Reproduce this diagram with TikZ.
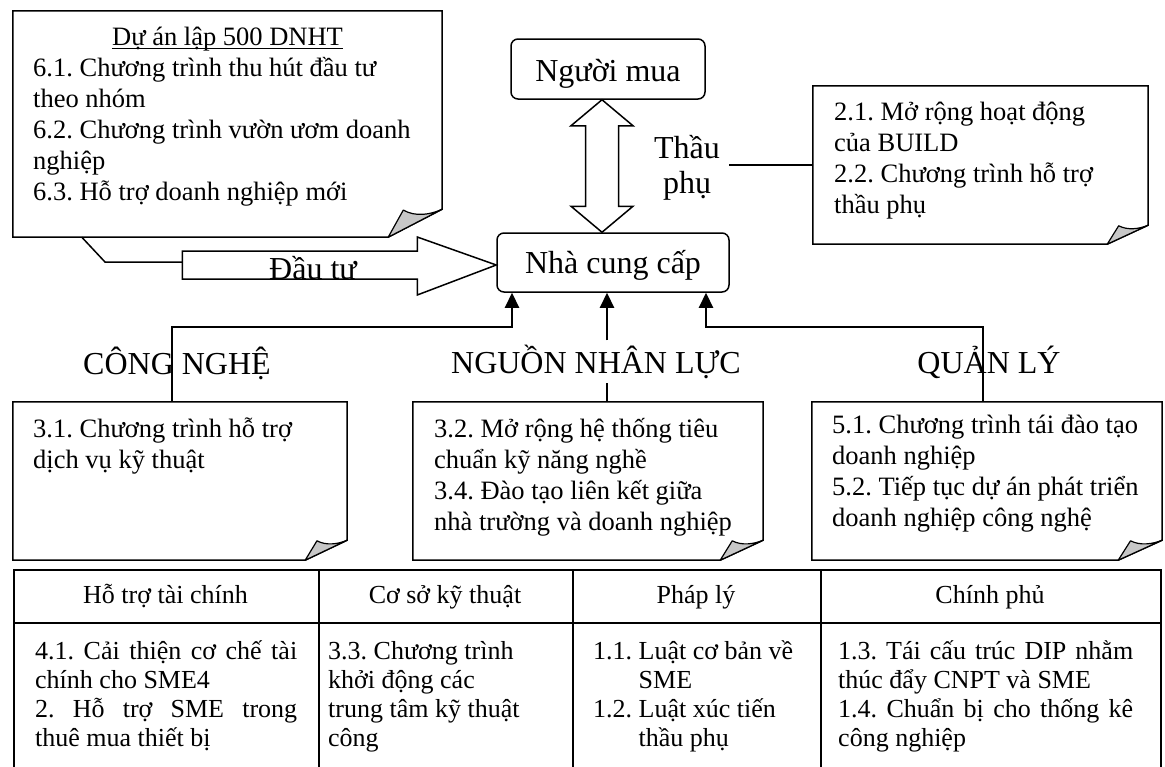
\documentclass[tikz,border=0pt]{standalone}
\usepackage{fontspec}
\setmainfont{Liberation Serif}
\usetikzlibrary{arrows.meta,calc,fit}
\frenchspacing

\tikzset{
  every node/.style={inner sep=0pt},
  note/.style={font=\fontsize{26.5}{31}\selectfont},
  big/.style={font=\fontsize{32}{35}\selectfont},
  celltext/.style={font=\fontsize{26}{29}\selectfont},
  area/.style={inner sep=0pt, draw=none},
  frame/.style={draw, line width=1.5pt, fill=white, line join=miter},
  flap/.style={draw, line width=1.2pt, fill=black!22, line join=round},
  rbox/.style={draw, line width=1.5pt, rounded corners=7pt, fill=white},
  cellbox/.style={draw, line width=1.5pt, anchor=north west},
  link/.style={line width=2.2pt},
  linkarrow/.style={line width=2.2pt, -{Triangle[length=15pt,width=14pt]}},
  hollow/.style={draw, line width=1.5pt, fill=white, line join=miter},
  thin/.style={line width=1.5pt},
}

% note frame with a turned-down bottom right corner
\newcommand\dogear[3]{%
  \filldraw[frame] (#1.north west) -- (#1.north east) -- ([yshift=#3pt]#1.south east)
    -- ([xshift=-#2pt]#1.south east) -- (#1.south west) -- cycle;
  \filldraw[flap] ([xshift=-#2pt]#1.south east)
    -- ([xshift=-0.72*#2pt, yshift=0.97*#3pt]#1.south east)
    .. controls ([xshift=-0.5*#2pt, yshift=0.72*#3pt]#1.south east)
    and ([xshift=-0.22*#2pt, yshift=0.8*#3pt]#1.south east)
    .. ([yshift=#3pt]#1.south east) -- cycle;}

\begin{document}
\frenchspacing
\begin{tikzpicture}[x=1pt,y=-1pt]
\useasboundingbox (0,0) rectangle (1165,766);
\clip (0,0) rectangle (1165,766);
\fill[white] (0,0) rectangle (1165,766);

% ---------- note frames ----------
\node[area, fit={(13,11) (442,237)}] (A) {};
\node[area, fit={(813,86) (1148,244)}] (B) {};
\node[area, fit={(13,402) (347,560)}] (C) {};
\node[area, fit={(413,402) (763,560)}] (D) {};
\node[area, fit={(812,402) (1162,560)}] (E) {};
\dogear{A}{54}{28}
\dogear{B}{41}{19}
\dogear{C}{42}{20}
\dogear{D}{43}{20}
\dogear{E}{44}{20}

% ---------- note texts ----------
\node[note, anchor=base] (Atitle) at (227.5,45) {Dự án lập 500 DNHT};
\draw[line width=1pt] ([yshift=-3pt]Atitle.base west) -- ([yshift=-3pt]Atitle.base east);
\node[note, anchor=base west] (Atxt) at (33,76) {\begin{tabular}[t]{@{}l@{}}
6.1. Chương trình thu hút đầu tư\\
theo nhóm\\
6.2. Chương trình vườn ươm doanh\\
nghiệp\\
6.3. Hỗ trợ doanh nghiệp mới\end{tabular}};
\node[note, anchor=base west] (Btxt) at (834,120) {\begin{tabular}[t]{@{}l@{}}
2.1. Mở rộng hoạt động\\
của BUILD\\
2.2. Chương trình hỗ trợ\\
thầu phụ\end{tabular}};
\node[note, anchor=base west] (Ctxt) at (33,437) {\begin{tabular}[t]{@{}l@{}}
3.1. Chương trình hỗ trợ\\
dịch vụ kỹ thuật\end{tabular}};
\node[note, anchor=base west] (Dtxt) at (434,437) {\begin{tabular}[t]{@{}l@{}}
3.2. Mở rộng hệ thống tiêu\\
chuẩn kỹ năng nghề\\
3.4. Đào tạo liên kết giữa\\
nhà trường và doanh nghiệp\end{tabular}};
\node[note, anchor=base west] (Etxt) at (832,433) {\begin{tabular}[t]{@{}l@{}}
5.1. Chương trình tái đào tạo\\
doanh nghiệp\\
5.2. Tiếp tục dự án phát triển\\
doanh nghiệp công nghệ\end{tabular}};

% ---------- buyer and supplier ----------
\node[rbox, minimum width=194pt, minimum height=60pt] (nm) at (608,69) {};
\node[big, anchor=base] (nmt) at (608,81) {Người mua};
\node[rbox, minimum width=232pt, minimum height=59pt] (ncc) at (613,262.5) {};
\node[big, anchor=base] (ncct) at (613,273) {Nhà cung cấp};

% two-way hollow arrow
\coordinate (dtop) at ([xshift=-6pt]nm.south);
\coordinate (dbot) at (dtop |- ncc.north);
\filldraw[hollow] (dtop) -- ++(31,26) -- ++(-14.5,0) -- ($(dbot)+(16.5,-26)$) -- ++(14.5,0)
  -- (dbot) -- ++(-31,-26) -- ++(14.5,0) -- ($(dtop)+(-16.5,26)$) -- ++(-14.5,0) -- cycle;
\node[big, anchor=base] (tp) at (687,158) {\begin{tabular}[t]{@{}c@{}}Thầu\\phụ\end{tabular}};
\draw[thin] ([xshift=9pt]tp.east |- B.west) -- (B.west);

% investment arrow
\coordinate (dt) at ($(ncc.west)+(0,2.5)$);
\draw[thin] ([xshift=69pt]A.south west) -- (105,262) -- ($(dt)+(-314,-3)$);
\filldraw[hollow] (dt) -- ($(dt)+(-79,-28)$) -- ($(dt)+(-79,-14)$) -- ($(dt)+(-314,-14)$)
  -- ($(dt)+(-314,14)$) -- ($(dt)+(-79,14)$) -- ($(dt)+(-79,30)$) -- cycle;
\node[big, anchor=base] (dtu) at (313,279) {Đầu tư};

% three pillars feeding the supplier
\coordinate (jl) at (512,327);
\coordinate (jm) at (607,327);
\coordinate (jr) at (706,327);
\node[big, anchor=base, inner ysep=4pt] (nnl) at (596,373) {NGUỒN NHÂN LỰC};
\draw[linkarrow] ([xshift=-8pt]C.north) |- (jl) -- (jl |- ncc.south);
\draw[link] (jm |- D.north) -- (jm |- nnl.south);
\draw[linkarrow] (jm |- nnl.north) -- (jm |- ncc.south);
\draw[linkarrow] ([xshift=-4pt]E.north) |- (jr) -- (jr |- ncc.south);
\node[big, anchor=base] (cn) at (177,374) {CÔNG NGHỆ};
\node[big, anchor=base] (ql) at (989,373) {QUẢN LÝ};

% ---------- bottom table ----------
\node[cellbox, minimum width=305pt, minimum height=53pt] (h1) at (13,569) {};
\node[cellbox, minimum width=254pt, minimum height=53pt] (h2) at (318,569) {};
\node[cellbox, minimum width=248pt, minimum height=53pt] (h3) at (572,569) {};
\node[cellbox, minimum width=340pt, minimum height=53pt] (h4) at (820,569) {};
\node[cellbox, minimum width=305pt, minimum height=170pt] (b1) at (13,622) {};
\node[cellbox, minimum width=254pt, minimum height=170pt] (b2) at (318,622) {};
\node[cellbox, minimum width=248pt, minimum height=170pt] (b3) at (572,622) {};
\node[cellbox, minimum width=340pt, minimum height=170pt] (b4) at (820,622) {};

\node[celltext, anchor=base] (h1t) at (165.5,603) {Hỗ trợ tài chính};
\node[celltext, anchor=base] (h2t) at (445,603) {Cơ sở kỹ thuật};
\node[celltext, anchor=base] (h3t) at (696,603) {Pháp lý};
\node[celltext, anchor=base] (h4t) at (990,603) {Chính phủ};

\node[celltext, anchor=base west] (b1t) at (35,659) {\begin{tabular}[t]{@{}l@{}}
\makebox[262pt][s]{4.1. Cải thiện cơ chế tài}\\
chính cho SME4\\
\makebox[262pt][s]{2. Hỗ trợ SME trong}\\
thuê mua thiết bị\end{tabular}};
\node[celltext, anchor=base west] (b2t) at (328,659) {\begin{tabular}[t]{@{}l@{}}
3.3. Chương trình\\
khởi động các\\
trung tâm kỹ thuật\\
công\end{tabular}};
\node[celltext, anchor=base west] (b3t) at (593,659) {\begin{tabular}[t]{@{}l@{\ }l@{}}
1.1. & Luật cơ bản về\\
 & SME\\
1.2. & Luật xúc tiến\\
 & thầu phụ\end{tabular}};
\node[celltext, anchor=base west] (b4t) at (838,659) {\begin{tabular}[t]{@{}l@{}}
\makebox[295pt][s]{1.3. Tái cấu trúc DIP nhằm}\\
thúc đẩy CNPT và SME\\
\makebox[295pt][s]{1.4. Chuẩn bị cho thống kê}\\
công nghiệp\end{tabular}};
\end{tikzpicture}
\end{document}
